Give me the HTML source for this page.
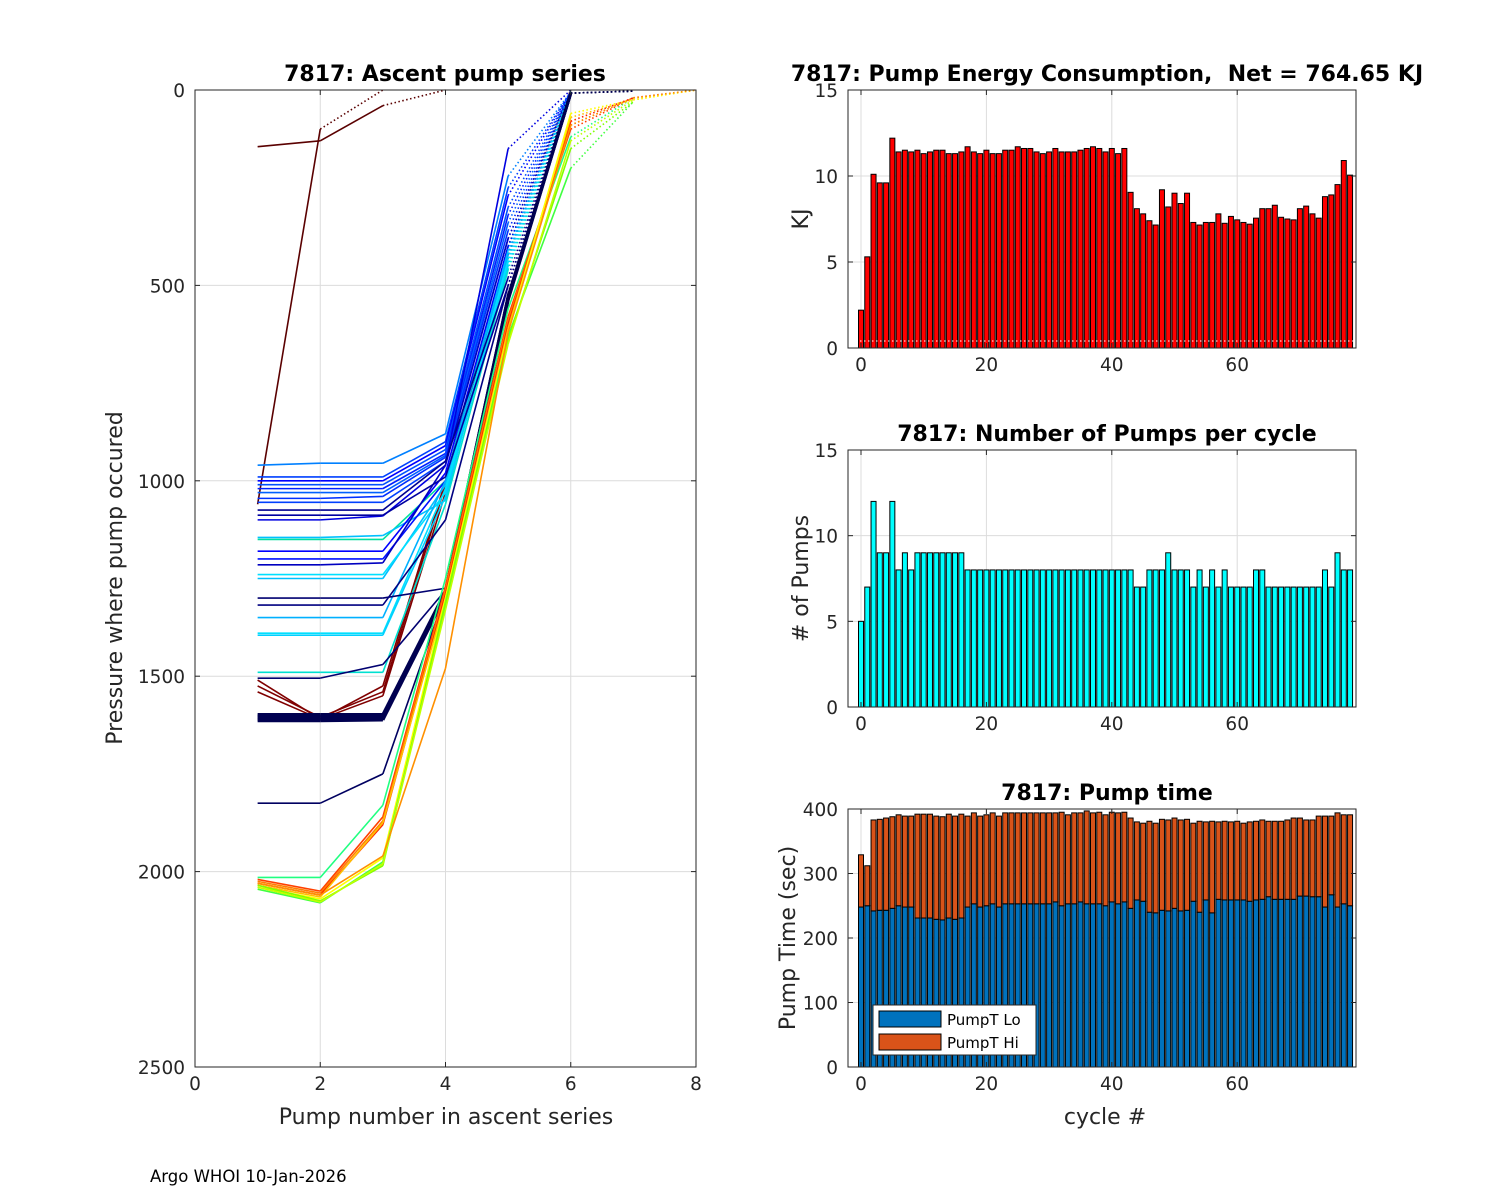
<!DOCTYPE html>
<html><head><meta charset="utf-8"><title>7817 pump plots</title>
<style>
html,body{margin:0;padding:0;background:#fff;}
svg{display:block;font-family:"DejaVu Sans","Liberation Sans",sans-serif;}
</style></head>
<body>
<svg id="fig" width="1500" height="1200" viewBox="0 0 1500 1200" xmlns="http://www.w3.org/2000/svg">
<rect x="0" y="0" width="1500" height="1200" fill="#fff"/>
<g id="left"></g>
<g id="energy"></g>
<g id="pumps"></g>
<g id="ptime"></g>
<text x="150" y="1182" font-size="16.5" fill="#000">Argo WHOI 10-Jan-2026</text>
</svg>
<script>
// ---- bar chart data ----
const energyKJ = [2.2,5.3,10.1,9.6,9.6,12.2,11.4,11.5,11.4,11.5,11.3,11.4,11.5,11.5,11.3,11.3,11.4,11.7,11.4,11.3,11.5,11.3,11.3,11.5,11.5,11.7,11.6,11.6,11.4,11.3,11.4,11.6,11.4,11.4,11.4,11.5,11.6,11.7,11.6,11.4,11.6,11.3,11.6,9.05,8.1,7.8,7.4,7.15,9.2,8.2,9.0,8.4,9.0,7.3,7.15,7.3,7.3,7.8,7.25,7.65,7.45,7.3,7.2,7.55,8.1,8.1,8.3,7.6,7.5,7.45,8.1,8.25,7.8,7.55,8.8,8.9,9.5,10.9,10.05];
const pumpCount = [5,7,12,9,9,12,8,9,8,9,9,9,9,9,9,9,9,8,8,8,8,8,8,8,8,8,8,8,8,8,8,8,8,8,8,8,8,8,8,8,8,8,8,8,7,7,8,8,8,9,8,8,8,7,8,7,8,7,8,7,7,7,7,8,8,7,7,7,7,7,7,7,7,7,8,7,9,8,8];
const pumpTLo = [248,250,242,243,243,246,250,248,248,231,231,231,229,228,231,229,231,248,253,248,250,253,248,253,253,253,253,253,253,253,253,256,250,253,253,256,253,253,253,250,256,253,256,246,259,257,240,239,243,242,246,242,243,257,240,259,239,260,259,259,259,259,257,259,260,264,260,260,260,260,265,265,264,264,248,267,248,253,250];
const pumpTTotal = [329,312,383,384,386,388,391,389,389,392,392,392,389,388,392,389,392,389,394,389,391,394,389,394,394,394,394,394,394,394,394,394,395,391,394,394,397,394,395,391,395,394,395,386,380,378,381,378,384,383,386,383,384,378,381,380,381,380,381,380,381,378,380,381,383,381,381,381,383,386,386,383,383,389,389,389,394,391,391];
const energyTicks = [0,5,10,15];
const pumpTicks = [0,5,10,15];
const timeTicks = [0,100,200,300,400];
const cycleTicks = [0,20,40,60];

// ---- ascent profile data (pressure at pump 1..N) ----
const profP = [
 [145,130,40,0],
 [1060,100,0],
 [1510,1610,1525,1000,400,0],
 [1525,1605,1540,1010,420,0],
 [1540,1610,1550,1030,430,0],
 [960,955,955,880,220,5],
 [990,990,990,900,250,5],
 [1000,1000,1000,910,270,5],
 [1010,1010,1010,920,300,5],
 [1020,1020,1020,930,320,5],
 [1030,1030,1030,935,340,5],
 [1045,1045,1040,940,360,5],
 [1055,1055,1055,950,380,5],
 [1100,1100,1090,960,150,0],
 [1150,1150,1150,1000,400,5],
 [1145,1145,1140,1050,420,5],
 [1180,1180,1180,980,400,5],
 [1200,1200,1200,1000,420,5],
 [1215,1215,1210,960,380,5],
 [1250,1250,1250,1010,410,5],
 [1240,1240,1240,1030,430,5],
 [1350,1350,1350,1000,420,5],
 [1390,1390,1390,1020,440,5],
 [1395,1395,1395,1040,450,5],
 [1490,1490,1490,1060,460,5],
 [1075,1075,1075,950,480,5],
 [1088,1088,1088,990,500,5],
 [1300,1300,1300,1275,520,5],
 [1318,1318,1318,1100,500,5],
 [1505,1505,1470,1280,540,5],
 [1825,1825,1750,1290,540,5],
 [1598,1598,1598,1282,528,8,3],
 [1602,1602,1602,1285,530,8,3],
 [1606,1606,1606,1288,532,8,3],
 [1610,1610,1610,1290,535,8,3],
 [1614,1614,1612,1293,538,8,3],
 [2015,2015,1830,1250,560,120,20],
 [2020,2050,1860,1270,580,100,20],
 [2025,2055,1870,1280,590,90,20],
 [2030,2060,1880,1290,600,80,20,0],
 [2035,2065,1875,1300,610,70,25,0],
 [2040,2070,1965,1300,620,60,25,0],
 [2045,2080,1975,1320,630,200,30],
 [2035,2075,1985,1310,640,150,30],
 [2040,2078,1980,1330,650,130,25],
 [2030,2060,1960,1480,620,90,20,0]
];
const profColor = ['#5a0000','#5a0000','#800000','#800000','#800000',
 '#0080ff','#0040ff','#0000ff','#0050ff','#0020ff','#0060ff','#0030ff','#0040ff','#0000e0','#00e0a0','#00c0ff','#0000ff','#0010ff','#0000c0','#00c0ff','#00e0ff','#00b0ff','#00e0ff','#00d0ff','#00e0d0','#000090','#0000a0','#000070','#000080','#000070','#000060',
 '#000050','#000050','#000050','#000050','#000050',
 '#20ff80','#ff4000','#ff8000','#ff2000','#ffc000','#ffff00','#40ff40','#80ff00','#c0ff00','#ff9000'];
const profDot = [2,1,4,4,4, 4,4,4,4,4,4,4,4,4,4,4,4,4,4,4,4,4,4,4,4,4,4,4,4,4,4, 5,5,5,5,5, 5,5,5,5,5,5,5,5,5,5];
const pumpXTicks = [0,2,4,6,8];
const presTicks = [0,500,1000,1500,2000,2500];

const NS = 'http://www.w3.org/2000/svg';
const TICKFS = 18.5, LABFS = 22, TITFS = 22;
function mk(parent, tag, attrs, text){
  const e = document.createElementNS(NS, tag);
  for (const k in attrs) e.setAttribute(k, attrs[k]);
  if (text !== undefined) e.textContent = text;
  parent.appendChild(e);
  return e;
}

// ---------- LEFT CHART ----------
(function(){
  const g = document.getElementById('left');
  const L=195,R=696,T=90,B=1067;
  const xs = n => L + (n/8)*(R-L);
  const ys = p => T + (p/2500)*(B-T);
  pumpXTicks.forEach(v=>{
    const l = mk(g,'line',{x1:xs(v),x2:xs(v),y1:T,y2:B,stroke:'#dcdcdc','stroke-width':1});
    
    
  });
  presTicks.forEach(v=>{
    const l = mk(g,'line',{x1:L,x2:R,y1:ys(v),y2:ys(v),stroke:'#dcdcdc','stroke-width':1});
    
    
  });
  profP.forEach((arr,i)=>{
    const col = profColor[i];
    const dot = profDot[i];
    const thick = (col==='#000050') ? 3 : 1.6;
    for (let s=0;s<arr.length-1;s++){
      const a = {x1:xs(s+1),y1:ys(arr[s]),x2:xs(s+2),y2:ys(arr[s+1]),stroke:col,'stroke-width':thick,'stroke-linecap':'butt'};
      if (s>=dot){ a['stroke-dasharray']='1.5 2.5'; a['stroke-width']=1.6; }
      const l = mk(g,'line',a);
      
      
    }
  });
  mk(g,'rect',{x:L,y:T,width:R-L,height:B-T,fill:'none',stroke:'#262626','stroke-width':1});
  pumpXTicks.forEach(v=>{
    mk(g,'line',{x1:xs(v),x2:xs(v),y1:B,y2:B-5,stroke:'#262626'});
    mk(g,'line',{x1:xs(v),x2:xs(v),y1:T,y2:T+5,stroke:'#262626'});
    const t = mk(g,'text',{x:xs(v),y:B+23,'font-size':TICKFS,'text-anchor':'middle',fill:'#262626'},String(v));
    
    
  });
  presTicks.forEach(v=>{
    mk(g,'line',{x1:L,x2:L+5,y1:ys(v),y2:ys(v),stroke:'#262626'});
    mk(g,'line',{x1:R,x2:R-5,y1:ys(v),y2:ys(v),stroke:'#262626'});
    const t = mk(g,'text',{x:L-10,y:ys(v)+7,'font-size':TICKFS,'text-anchor':'end',fill:'#262626'},String(v));
    
    
  });
  const tt = mk(g,'text',{x:445,y:81,'font-size':TITFS,'font-weight':'bold','text-anchor':'middle',fill:'#000'},'7817: Ascent pump series');
  
  
  const xl = mk(g,'text',{x:446,y:1124,'font-size':LABFS,'text-anchor':'middle',fill:'#262626'},'Pump number in ascent series');
  
  
  const yl = mk(g,'text',{x:0,y:0,'font-size':LABFS,'text-anchor':'middle',fill:'#262626',transform:'translate(122,578) rotate(-90)'},'Pressure where pump occured');
  
  
})();

// ---------- RIGHT BAR CHARTS ----------
const RL=848, RR=1356;
const cx = v => 861 + v*6.27;
function barAxes(g, T, B, ymax, yticks){
  const ys = v => B - (v/ymax)*(B-T);
  cycleTicks.forEach(v=>{
    const l = mk(g,'line',{x1:cx(v),x2:cx(v),y1:T,y2:B,stroke:'#dcdcdc'});
    
    
  });
  yticks.forEach(v=>{
    const l = mk(g,'line',{x1:RL,x2:RR,y1:ys(v),y2:ys(v),stroke:'#dcdcdc'});
    
    
  });
  return ys;
}
function barFrame(g, T, B, ymax, yticks, title, ylabel, xlabel){
  const ys = v => B - (v/ymax)*(B-T);
  mk(g,'rect',{x:RL,y:T,width:RR-RL,height:B-T,fill:'none',stroke:'#262626'});
  cycleTicks.forEach(v=>{
    mk(g,'line',{x1:cx(v),x2:cx(v),y1:B,y2:B-5,stroke:'#262626'});
    mk(g,'line',{x1:cx(v),x2:cx(v),y1:T,y2:T+5,stroke:'#262626'});
    const t = mk(g,'text',{x:cx(v),y:B+23,'font-size':TICKFS,'text-anchor':'middle',fill:'#262626'},String(v));
    
    
  });
  yticks.forEach(v=>{
    mk(g,'line',{x1:RL,x2:RL+5,y1:ys(v),y2:ys(v),stroke:'#262626'});
    mk(g,'line',{x1:RR,x2:RR-5,y1:ys(v),y2:ys(v),stroke:'#262626'});
    const t = mk(g,'text',{x:RL-10,y:ys(v)+7,'font-size':TICKFS,'text-anchor':'end',fill:'#262626'},String(v));
    
    
  });
  const tt = mk(g,'text',{x:title[1],y:T-9,'font-size':TITFS,'font-weight':'bold','text-anchor':'middle',fill:'#000','xml:space':'preserve'},title[0]);
  
  
  const yl = mk(g,'text',{x:0,y:0,'font-size':LABFS,'text-anchor':'middle',fill:'#262626',transform:'translate('+ylabel[1]+','+((T+B)/2)+') rotate(-90)'},ylabel[0]);
  
  
  if (xlabel){
    const xl = mk(g,'text',{x:1105,y:B+57,'font-size':LABFS,'text-anchor':'middle',fill:'#262626'},xlabel);
    
    
  }
}
const BW = 5.0;

// Energy
(function(){
  const g = document.getElementById('energy');
  const T=90,B=348;
  const ys = barAxes(g,T,B,15,energyTicks);
  energyKJ.forEach((v,i)=>{
    const r = mk(g,'rect',{x:cx(i)-BW/2,y:ys(v),width:BW,height:B-ys(v),fill:'#ff0000',stroke:'#000','stroke-width':1});
    
    
  });
  mk(g,'line',{x1:RL,x2:RR,y1:341,y2:341,stroke:'#fff','stroke-width':1,'stroke-dasharray':'1.5 2.5'});
  barFrame(g,T,B,15,energyTicks,['7817: Pump Energy Consumption,\u00a0\u00a0Net = 764.65 KJ',1107],['KJ',808],null);
})();

// Pumps
(function(){
  const g = document.getElementById('pumps');
  const T=450,B=707;
  const ys = barAxes(g,T,B,15,pumpTicks);
  pumpCount.forEach((v,i)=>{
    const r = mk(g,'rect',{x:cx(i)-BW/2,y:ys(v),width:BW,height:B-ys(v),fill:'#00ffff',stroke:'#000','stroke-width':1});
    
    
  });
  barFrame(g,T,B,15,pumpTicks,['7817: Number of Pumps per cycle',1107],['# of Pumps',808],null);
})();

// Pump time
(function(){
  const g = document.getElementById('ptime');
  const T=809,B=1067;
  const ys = barAxes(g,T,B,400,timeTicks);
  pumpTTotal.forEach((tot,i)=>{
    const lo = pumpTLo[i];
    const r1 = mk(g,'rect',{x:cx(i)-BW/2,y:ys(lo),width:BW,height:B-ys(lo),fill:'#0072bd',stroke:'#000','stroke-width':1});
    
    
    const r2 = mk(g,'rect',{x:cx(i)-BW/2,y:ys(tot),width:BW,height:ys(lo)-ys(tot),fill:'#d95319',stroke:'#000','stroke-width':1});
    
    
  });
  barFrame(g,T,B,400,timeTicks,['7817: Pump time',1107],['Pump Time (sec)',795],'cycle #');
  const lg = mk(g,'g',{});
  
  
  mk(lg,'rect',{x:873,y:1005,width:163,height:50,fill:'#fff',stroke:'#262626'});
  mk(lg,'rect',{x:879,y:1011,width:62,height:16,fill:'#0072bd',stroke:'#000'});
  const t1 = mk(lg,'text',{x:947,y:1025,'font-size':15,fill:'#000'},'PumpT Lo');
  
  
  mk(lg,'rect',{x:879,y:1034,width:62,height:16,fill:'#d95319',stroke:'#000'});
  const t2 = mk(lg,'text',{x:947,y:1048,'font-size':15,fill:'#000'},'PumpT Hi');
  
  
})();
</script>
</body></html>
